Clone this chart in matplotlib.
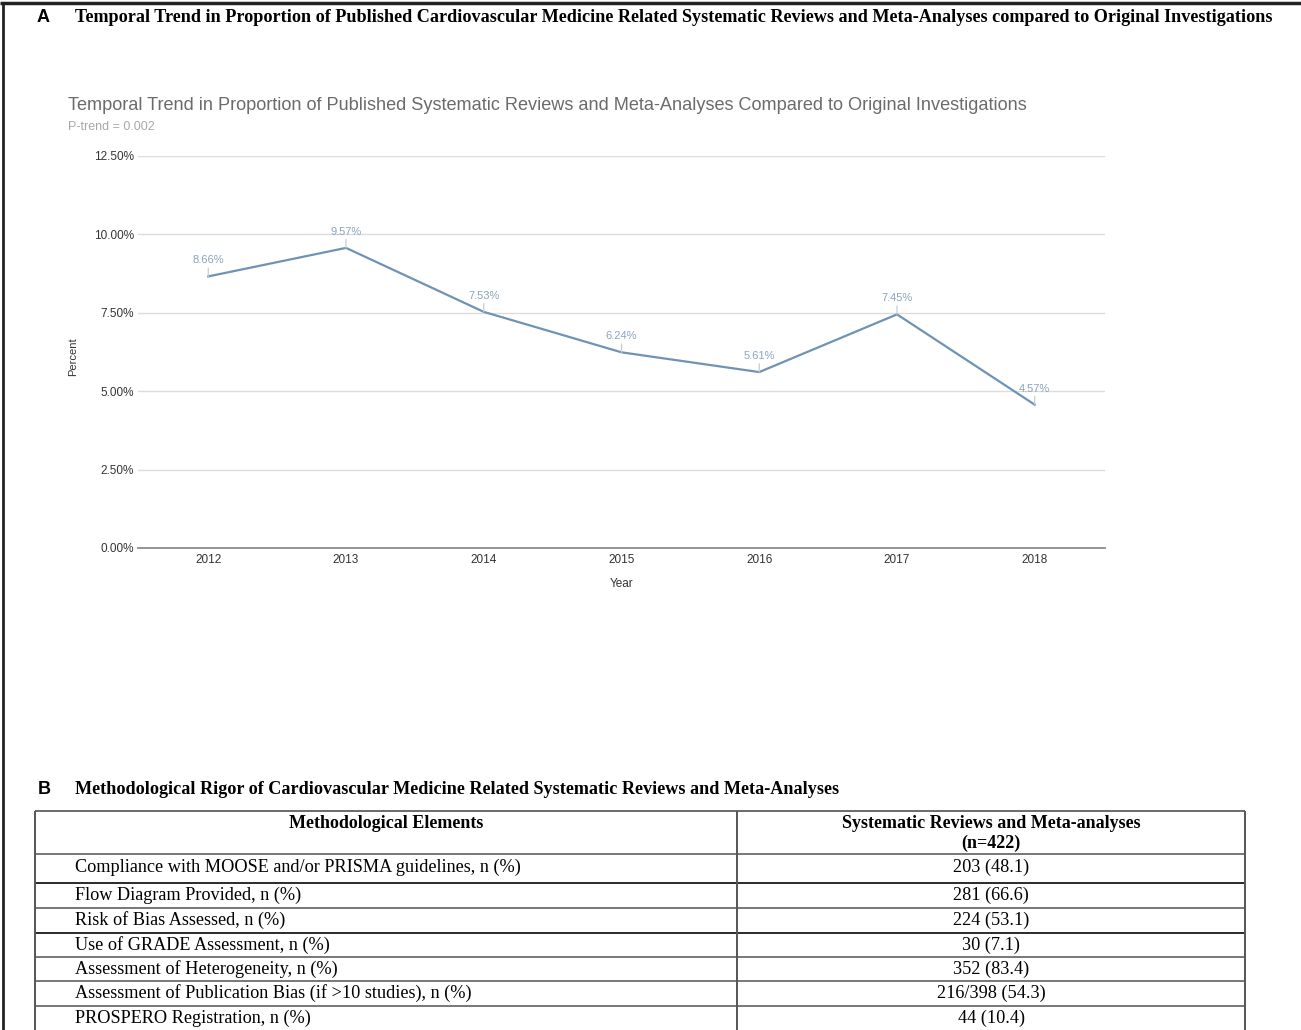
import matplotlib
matplotlib.use("Agg")
import matplotlib.pyplot as plt
from matplotlib.ticker import FuncFormatter

# ---- data ----
years = [2012, 2013, 2014, 2015, 2016, 2017, 2018]
percent = [8.66, 9.57, 7.53, 6.24, 5.61, 7.45, 4.57]
y_ticks = [0.0, 2.5, 5.0, 7.5, 10.0, 12.5]

elements = [
    "Compliance with MOOSE and/or PRISMA guidelines, n (%)",
    "Flow Diagram Provided, n (%)",
    "Risk of Bias Assessed, n (%)",
    "Use of GRADE Assessment, n (%)",
    "Assessment of Heterogeneity, n (%)",
    "Assessment of Publication Bias (if >10 studies), n (%)",
    "PROSPERO Registration, n (%)",
]
counts = [
    "203 (48.1)",
    "281 (66.6)",
    "224 (53.1)",
    "30 (7.1)",
    "352 (83.4)",
    "216/398 (54.3)",
    "44 (10.4)",
]

W, H = 1301, 1030
fig = plt.figure(figsize=(W / 100, H / 100), dpi=100)

# full-figure overlay in pixel coordinates for frame, headings and table
ov = fig.add_axes([0, 0, 1, 1])
ov.set_xlim(0, W)
ov.set_ylim(H, 0)
ov.axis("off")

SERIF = "Liberation Serif"
SANS = "Liberation Sans"

# outer frame (top and left)
ov.plot([0, W], [3, 3], color="#222222", lw=2.5, solid_capstyle="butt")
ov.plot([3, 3], [2, H], color="#222222", lw=2.0, solid_capstyle="butt")

# panel headings
ov.text(37, 18, "A", family=SANS, weight="bold", fontsize=13, va="center", ha="left")
ov.text(75, 18, "Temporal Trend in Proportion of Published Cardiovascular Medicine Related "
        "Systematic Reviews and Meta-Analyses compared to Original Investigations",
        family=SERIF, weight="bold", fontsize=13.05, va="center", ha="left")
ov.text(38, 790, "B", family=SANS, weight="bold", fontsize=13, va="center", ha="left")
ov.text(75, 790, "Methodological Rigor of Cardiovascular Medicine Related Systematic "
        "Reviews and Meta-Analyses",
        family=SERIF, weight="bold", fontsize=13.05, va="center", ha="left")

# chart title and subtitle
ov.text(68, 106, "Temporal Trend in Proportion of Published Systematic Reviews and "
        "Meta-Analyses Compared to Original Investigations",
        family=SANS, fontsize=13.1, color="#6b6b6b", va="center", ha="left")
ov.text(68, 127, "P-trend = 0.002", family=SANS, fontsize=9, color="#a8a8a8",
        va="center", ha="left")

# ---- line chart ----
left, right, top, bottom = 138, 1105, 156, 548
ax = fig.add_axes([left / W, 1 - bottom / H, (right - left) / W, (bottom - top) / H])
ax.set_facecolor("none")
line_color = "#6f93b5"
ax.plot(years, percent, color=line_color, lw=1.6, zorder=3)
for x, v in zip(years, percent):
    ax.annotate(f"{v:.2f}%", xy=(x, v), xytext=(0, 8), textcoords="offset points",
                ha="center", va="bottom", fontsize=8, family=SANS, color="#8aa4bd",
                arrowprops=dict(arrowstyle="-", color="#c3cdd7", lw=0.9,
                                shrinkA=0, shrinkB=0))
ax.set_xlim(2011.49, 2018.51)
ax.set_ylim(0, 12.5)
ax.set_yticks(y_ticks)
ax.yaxis.set_major_formatter(FuncFormatter(lambda v, p: f"{v:.2f}%"))
ax.set_xticks(years)
ax.grid(axis="y", color="#dcdcdc", lw=1.0)
ax.set_axisbelow(True)
for s in ["top", "right", "left"]:
    ax.spines[s].set_visible(False)
ax.spines["bottom"].set_color("#8a8a8a")
ax.spines["bottom"].set_linewidth(1.3)
ax.tick_params(axis="y", length=0, labelsize=8.5, colors="#333333", pad=3)
ax.tick_params(axis="x", length=0, labelsize=8.5, colors="#333333", pad=4)
for lab in ax.get_xticklabels() + ax.get_yticklabels():
    lab.set_family(SANS)
ax.set_xlabel("Year", family=SANS, fontsize=8.5, color="#333333", labelpad=9)
ov.text(73, 357, "Percent", family=SANS, fontsize=8, color="#333333",
        rotation=90, ha="center", va="center")

# ---- table ----
tl, tr, tm = 35, 1245, 737
row_y = [811, 854, 883, 908, 933, 957, 981, 1006, 1031]
line_cols = ["#6a6a6a", "#777777", "#2a2a2a", "#777777", "#2a2a2a",
             "#777777", "#777777", "#777777", "#777777"]
for yy, c in zip(row_y, line_cols):
    ov.plot([tl, tr], [yy, yy], color=c, lw=1.4, solid_capstyle="butt")
for xx in [tl, tm, tr]:
    ov.plot([xx, xx], [row_y[0], H], color="#555555", lw=1.4, solid_capstyle="butt")

ov.text((tl + tm) / 2, 823, "Methodological Elements", family=SERIF, weight="bold",
        fontsize=13, ha="center", va="center")
ov.text((tm + tr) / 2, 823, "Systematic Reviews and Meta-analyses", family=SERIF,
        weight="bold", fontsize=13, ha="center", va="center")
ov.text((tm + tr) / 2, 843, "(n=422)", family=SERIF, weight="bold", fontsize=13,
        ha="center", va="center")

for i, (name, val) in enumerate(zip(elements, counts)):
    y0, y1 = row_y[i + 1], row_y[i + 2]
    yc = (y0 + y1) / 2 if i > 0 else y0 + 13
    ov.text(75, yc, name, family=SERIF, fontsize=13.15, ha="left", va="center")
    ov.text((tm + tr) / 2, yc, val, family=SERIF, fontsize=13.15, ha="center", va="center")

fig.savefig("out.png", dpi=100)
